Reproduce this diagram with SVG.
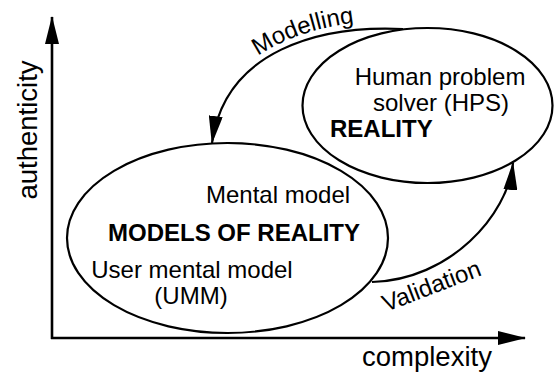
<svg xmlns="http://www.w3.org/2000/svg" width="554" height="372" viewBox="0 0 554 372">
  <style>
    .shape { fill: none; stroke: #000; stroke-width: 2.2; }
    .axis { fill: none; stroke: #000; stroke-width: 2.6; }
    .lbl { font-family: "Liberation Sans", Arial, Helvetica, sans-serif; font-size: 24px; fill: #000; }
    .bold { font-weight: bold; }
    .axlbl { font-family: "Liberation Sans", Arial, Helvetica, sans-serif; font-size: 27.5px; fill: #000; }
  </style>
  <defs>
    <marker id="arrow" markerUnits="userSpaceOnUse" markerWidth="28" markerHeight="14" refX="27" refY="7" orient="auto" viewBox="0 0 28 14">
      <path d="M0,0 L28,7 L0,14 Z" fill="#000"/>
    </marker>
    <path id="modPath" d="M258,56 Q300,28 362,22"/>
  </defs>
  <rect width="554" height="372" fill="#fff"/>

  <g id="axes">
    <line class="axis" x1="52" y1="339" x2="52" y2="17" marker-end="url(#arrow)"/>
    <line class="axis" x1="51" y1="338" x2="525" y2="338" marker-end="url(#arrow)"/>
    <text class="axlbl" transform="translate(37,130) rotate(-90)" text-anchor="middle">authenticity</text>
    <text class="axlbl" x="362" y="366">complexity</text>
  </g>

  <g id="reality">
    <ellipse class="shape" cx="427.5" cy="105.5" rx="125" ry="77.5"/>
    <text class="lbl" x="440" y="85" text-anchor="middle">Human problem</text>
    <text class="lbl" x="441" y="110.5" text-anchor="middle">solver (HPS)</text>
    <text class="lbl bold" x="330" y="137">REALITY</text>
  </g>

  <g id="models">
    <ellipse class="shape" cx="227.5" cy="238" rx="160.5" ry="95"/>
    <text class="lbl" x="206" y="203">Mental model</text>
    <text class="lbl bold" x="108" y="240.5">MODELS OF REALITY</text>
    <text class="lbl" x="192" y="278" text-anchor="middle">User mental model</text>
    <text class="lbl" x="191" y="304" text-anchor="middle">(UMM)</text>
  </g>

  <g id="connectors">
    <path class="shape" d="M403,29 C320,25 225,50 212,143" marker-end="url(#arrow)"/>
    <path class="shape" d="M372,282 C450,280 508,215 513,163" marker-end="url(#arrow)"/>
    <text class="lbl"><textPath href="#modPath">Modelling</textPath></text>
    <text class="lbl" transform="translate(386,312) rotate(-21)">Validation</text>
  </g>
</svg>
